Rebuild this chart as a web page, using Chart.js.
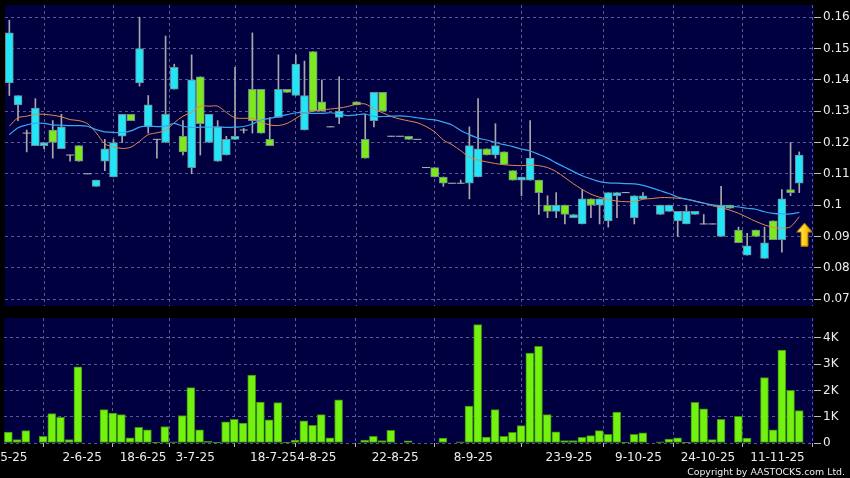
<!DOCTYPE html>
<html>
<head>
<meta charset="utf-8">
<script src="https://cdn.jsdelivr.net/npm/chart.js@4.4.1/dist/chart.umd.min.js"></script>
<style>
  html, body { margin: 0; padding: 0; background: #000; overflow: hidden; }
  #wrap { position: relative; width: 850px; height: 478px; }
  canvas { position: absolute; left: 0; }
  #priceChart { top: 0; }
  #volChart { top: 312px; }
</style>
</head>
<body>
<div id="wrap">
  <canvas id="priceChart" width="850" height="312"></canvas>
  <canvas id="volChart" width="850" height="166"></canvas>
</div>
<script>
// daily prices, one entry per bar (null = no bar)
const opens = [
  0.139, 0.132, 0.123, 0.119, 0.119, 0.124, 0.118, 0.116, 0.119, 0.110,
  0.106, 0.114, 0.109, 0.122, 0.129, 0.139, 0.125, 0.121, 0.120, 0.137,
  0.122, 0.112, 0.141, 0.120, 0.114, 0.116, 0.121, 0.124, 0.137, 0.137,
  0.121, 0.128, 0.137, 0.135, 0.124, 0.149, 0.133, 0.125, 0.128, null,
  0.133, 0.121, 0.127, 0.136, 0.122, 0.122, 0.122, 0.121, 0.112, 0.112,
  0.109, 0.107, 0.107, 0.107, 0.109, 0.118, 0.116, 0.117, 0.111, 0.108,
  0.108, 0.108, 0.100, 0.098, 0.100, 0.096, 0.094, 0.102, 0.100, 0.095,
  0.103, 0.104, 0.096, 0.102, null, 0.097, 0.098, 0.095, 0.094, 0.097,
  0.094, 0.094, 0.090, 0.100, 0.092, 0.084, 0.092, 0.083, 0.095, 0.089,
  0.105, 0.107
];
const highs = [
  0.159, 0.135, 0.124, 0.134, 0.120, 0.127, 0.129, 0.116, 0.119, 0.110,
  0.108, 0.121, 0.121, 0.129, 0.129, 0.160, 0.135, 0.121, 0.154, 0.145,
  0.127, 0.148, 0.141, 0.129, 0.127, 0.122, 0.144, 0.1245, 0.155, 0.137,
  0.128, 0.148, 0.137, 0.148, 0.146, 0.149, 0.140, 0.125, 0.141, null,
  0.133, 0.129, 0.136, 0.136, 0.122, 0.122, 0.122, 0.121, 0.112, 0.112,
  0.109, 0.107, 0.108, 0.125, 0.134, 0.118, 0.126, 0.117, 0.111, 0.109,
  0.127, 0.108, 0.103, 0.104, 0.100, 0.097, 0.105, 0.102, 0.102, 0.104,
  0.104, 0.104, 0.103, 0.104, null, 0.100, 0.100, 0.098, 0.100, 0.098,
  0.097, 0.094, 0.106, 0.100, 0.093, 0.091, 0.092, 0.093, 0.095, 0.105,
  0.120, 0.117
];
const lows = [
  0.135, 0.127, 0.117, 0.119, 0.118, 0.115, 0.118, 0.114, 0.114, 0.110,
  0.106, 0.111, 0.109, 0.120, 0.127, 0.138, 0.123, 0.115, 0.120, 0.137,
  0.116, 0.110, 0.116, 0.120, 0.114, 0.116, 0.121, 0.123, 0.123, 0.123,
  0.119, 0.128, 0.136, 0.135, 0.124, 0.130, 0.130, 0.125, 0.126, null,
  0.132, 0.115, 0.125, 0.130, 0.122, 0.122, 0.121, 0.121, 0.112, 0.109,
  0.106, 0.107, 0.107, 0.102, 0.109, 0.116, 0.115, 0.113, 0.108, 0.103,
  0.108, 0.097, 0.096, 0.096, 0.094, 0.096, 0.094, 0.096, 0.094, 0.093,
  0.096, 0.104, 0.094, 0.102, null, 0.097, 0.098, 0.090, 0.094, 0.097,
  0.094, 0.094, 0.090, 0.099, 0.088, 0.084, 0.090, 0.083, 0.089, 0.085,
  0.103, 0.104
];
const closes = [
  0.155, 0.135, 0.123, 0.131, 0.120, 0.120, 0.125, 0.116, 0.114, 0.110,
  0.108, 0.118, 0.120, 0.129, 0.127, 0.150, 0.132, 0.121, 0.129, 0.144,
  0.117, 0.140, 0.126, 0.129, 0.125, 0.121, 0.122, 0.124, 0.127, 0.123,
  0.119, 0.137, 0.136, 0.145, 0.135, 0.130, 0.130, 0.125, 0.130, null,
  0.132, 0.115, 0.136, 0.130, 0.122, 0.122, 0.121, 0.121, 0.112, 0.109,
  0.107, 0.107, 0.107, 0.119, 0.118, 0.116, 0.119, 0.113, 0.108, 0.109,
  0.115, 0.104, 0.098, 0.100, 0.097, 0.097, 0.102, 0.100, 0.102, 0.104,
  0.104, 0.104, 0.103, 0.103, null, 0.100, 0.100, 0.098, 0.098, 0.098,
  0.094, 0.094, 0.100, 0.099, 0.088, 0.087, 0.090, 0.088, 0.089, 0.102,
  0.104, 0.116
];
const volumes = [
  420, 130, 470, 0, 250, 1120, 980, 130, 2900, 0,
  0, 1270, 1140, 1080, 200, 600, 500, 30, 630, 40,
  1040, 2110, 500, 60, 30, 810, 900, 760, 2590, 1560,
  880, 1540, 30, 110, 840, 670, 1080, 200, 1640, 0,
  0, 110, 250, 90, 480, 0, 80, 0, 0, 0,
  190, 0, 40, 1410, 4510, 230, 1270, 250, 410, 660,
  3420, 3680, 1080, 430, 90, 90, 220, 280, 470, 330,
  1180, 10, 330, 390, 0, 40, 150, 200, 30, 1550,
  1300, 130, 900, 0, 1020, 190, 0, 2490, 500, 3540,
  2010, 1230
];
// moving averages (orange = short, blue = long)
const maShort = [
  0.1252, 0.1279, 0.1284, 0.1290, 0.1290, 0.1287, 0.1282, 0.1273, 0.1270, 0.1260,
  0.1231, 0.1196, 0.1186, 0.1181, 0.1185, 0.1204, 0.1225, 0.1231, 0.1239, 0.1263,
  0.1284, 0.1297, 0.1316, 0.1316, 0.1316, 0.1296, 0.1279, 0.1277, 0.1277, 0.1265,
  0.1256, 0.1254, 0.1261, 0.1277, 0.1293, 0.1300, 0.1304, 0.1307, 0.1310, 0.1315,
  0.1322, 0.1323, 0.1307, 0.1295, 0.1283, 0.1275, 0.1269, 0.1263, 0.1251, 0.1234,
  0.1208, 0.1193, 0.1174, 0.1153, 0.1144, 0.1138, 0.1133, 0.1129, 0.1127, 0.1126,
  0.1128, 0.1126, 0.1120, 0.1107, 0.1088, 0.1068, 0.1050, 0.1035, 0.1025, 0.1018,
  0.1013, 0.1011, 0.1011, 0.1019, 0.1021, 0.1024, 0.1024, 0.1022, 0.1019, 0.1013,
  0.1007, 0.0998, 0.0992, 0.0984, 0.0974, 0.0961, 0.0948, 0.0937, 0.0929, 0.0926,
  0.0931, 0.0963
];
const maLong = [
  0.1225, 0.1247, 0.1256, 0.1262, 0.1261, 0.1256, 0.1255, 0.1254, 0.1254, 0.1252,
  0.1241, 0.1234, 0.1232, 0.1232, 0.1237, 0.1249, 0.1252, 0.1251, 0.1252, 0.1261,
  0.1252, 0.1248, 0.1249, 0.1249, 0.1250, 0.1248, 0.1249, 0.1251, 0.1259, 0.1272,
  0.1277, 0.1283, 0.1289, 0.1295, 0.1295, 0.1293, 0.1293, 0.1295, 0.1291, 0.1286,
  0.1288, 0.1291, 0.1283, 0.1283, 0.1284, 0.1285, 0.1283, 0.1279, 0.1275, 0.1272,
  0.1265, 0.1256, 0.1238, 0.1225, 0.1214, 0.1208, 0.1200, 0.1193, 0.1187, 0.1179,
  0.1173, 0.1162, 0.1150, 0.1135, 0.1121, 0.1107, 0.1094, 0.1084, 0.1075, 0.1071,
  0.1070, 0.1069, 0.1068, 0.1063, 0.1055, 0.1046, 0.1037, 0.1026, 0.1019, 0.1013,
  0.1006, 0.1001, 0.0998, 0.0997, 0.0994, 0.0990, 0.0987, 0.0979, 0.0974, 0.0972,
  0.0972, 0.0977
];
// date labels and the bar index each one sits at
const dateTickIdx = [0, 9, 16, 22, 31, 36, 45, 54, 65, 73, 81, 89];
const dateTickLabels = ['16-5-25', '2-6-25', '18-6-25', '3-7-25', '18-7-25', '4-8-25',
  '22-8-25', '8-9-25', '23-9-25', '9-10-25', '24-10-25', '11-11-25'];
const priceTicks = [0.07, 0.08, 0.09, 0.10, 0.11, 0.12, 0.13, 0.14, 0.15, 0.16];
const priceTickLabels = ['0.07', '0.08', '0.09', '0.1', '0.11', '0.12', '0.13', '0.14', '0.15', '0.16'];
const volTicks = [0, 1000, 2000, 3000, 4000];
const volTickLabels = ['0', '1K', '2K', '3K', '4K'];
// buy signal arrow under the last bar
const signalPoint = { x: 91.6, y: 0.0906 };

const NAVY = '#000040';
const GRID = 'rgba(120,120,175,0.75)';
const CYAN = '#22e6f7';
const GREEN = '#7de81c';
const TEXT = '#ececec';

Chart.defaults.font.family = 'DejaVu Sans';
Chart.defaults.font.size = 12;
Chart.defaults.color = TEXT;

const barIdx = opens.map((_, i) => i);
const bodies = opens.map((o, i) => (o === null || o === closes[i]) ? null : [o, closes[i]]);
const wicks = opens.map((o, i) => o === null ? null : [lows[i], highs[i]]);
const dojis = opens.map((o, i) => (o !== null && o === closes[i]) ? o : null);
const bodyColors = opens.map((o, i) => closes[i] > o ? CYAN : GREEN);

// yellow arrow marker
const arrow = document.createElement('canvas');
arrow.width = 17; arrow.height = 24;
(function () {
  const c = arrow.getContext('2d');
  const g = c.createLinearGradient(0, 0, 17, 0);
  g.addColorStop(0, '#fff59a');
  g.addColorStop(0.5, '#ffd21a');
  g.addColorStop(1, '#e79a00');
  c.beginPath();
  c.moveTo(8.5, 0.5); c.lineTo(16.5, 9.5); c.lineTo(12, 9.5); c.lineTo(12, 23.5);
  c.lineTo(5, 23.5); c.lineTo(5, 9.5); c.lineTo(0.5, 9.5); c.closePath();
  c.fillStyle = g; c.fill();
  c.strokeStyle = '#a86f00'; c.lineWidth = 1; c.stroke();
})();

const panelBg = {
  id: 'panelBg',
  beforeDraw(chart) {
    const { ctx, chartArea: a } = chart;
    ctx.save();
    ctx.fillStyle = '#000';
    ctx.fillRect(0, 0, chart.width, chart.height);
    ctx.fillStyle = NAVY;
    ctx.fillRect(a.left, a.top, a.right - a.left, a.bottom - a.top);
    ctx.restore();
  }
};

const copyright = {
  id: 'copyright',
  afterDraw(chart) {
    const ctx = chart.ctx;
    ctx.save();
    ctx.font = '9.4px "DejaVu Sans"';
    ctx.fillStyle = TEXT;
    ctx.textAlign = 'right';
    ctx.textBaseline = 'alphabetic';
    ctx.fillText('Copyright by AASTOCKS.com Ltd.', 845, 162.5);
    ctx.restore();
  }
};

function xAxis(withLabels) {
  return {
    type: 'linear', min: -0.5, max: 92.7, bounds: 'data', offset: false,
    afterBuildTicks: s => { s.ticks = dateTickIdx.map(i => ({ value: i - 0.5 })); },
    afterFit: s => {
      s.height = withLabels ? 35 : 0;
      s.paddingLeft = 0; s.paddingRight = 0;
    },
    ticks: {
      display: withLabels, autoSkip: false, maxRotation: 0, padding: 4, color: TEXT,
      callback: (v, i) => dateTickLabels[i]
    },
    grid: {
      color: GRID, drawTicks: withLabels, tickLength: 4,
      tickColor: '#bdbdbd', tickBorderDash: []
    },
    border: { display: false, dash: [3, 3] }
  };
}

function yAxis(min, max, ticks, labels) {
  return {
    type: 'linear', position: 'right', min: min, max: max, bounds: 'data',
    afterBuildTicks: s => { s.ticks = ticks.map(v => ({ value: v })); },
    afterFit: s => { s.width = 36; s.paddingTop = 0; s.paddingBottom = 0; },
    ticks: { padding: 2, color: TEXT, callback: (v, i) => labels[i] },
    grid: { color: GRID, tickLength: 7, tickColor: '#bdbdbd', tickBorderDash: [] },
    border: { display: false, dash: [3, 3] }
  };
}

// price panel
new Chart(document.getElementById('priceChart'), {
  type: 'bar',
  data: {
    labels: barIdx,
    datasets: [
      {
        label: 'range',
        data: wicks,
        backgroundColor: '#a8a8a8',
        barThickness: 1,
        grouped: false,
        order: 5
      },
      {
        label: 'body',
        data: bodies,
        backgroundColor: bodyColors,
        borderColor: '#6f8c96',
        borderWidth: 1,
        borderSkipped: false,
        barThickness: 8,
        grouped: false,
        order: 4
      },
      {
        type: 'line',
        label: 'flat',
        data: dojis,
        showLine: false,
        pointStyle: 'line',
        pointRadius: 4,
        pointBorderColor: '#b4b4b4',
        pointBorderWidth: 1,
        order: 3
      },
      {
        type: 'line',
        label: 'MA short',
        data: maShort,
        borderColor: '#e2884c',
        borderWidth: 1,
        pointRadius: 0,
        tension: 0.3,
        order: 2
      },
      {
        type: 'line',
        label: 'MA long',
        data: maLong,
        borderColor: '#3aa6ee',
        borderWidth: 1.2,
        pointRadius: 0,
        tension: 0.3,
        order: 1
      },
      {
        type: 'scatter',
        label: 'signal',
        data: [signalPoint],
        pointStyle: arrow,
        order: 0
      }
    ]
  },
  options: {
    responsive: false,
    animation: false,
    devicePixelRatio: 1,
    layout: { padding: { top: 5, left: 4, right: 0, bottom: 6 } },
    plugins: { legend: { display: false }, tooltip: { enabled: false } },
    scales: {
      x: xAxis(false),
      y: yAxis(0.0678, 0.1639, priceTicks, priceTickLabels)
    }
  },
  plugins: [panelBg]
});

// volume panel
new Chart(document.getElementById('volChart'), {
  type: 'bar',
  data: {
    labels: barIdx,
    datasets: [
      {
        label: 'Volume',
        data: volumes,
        backgroundColor: '#72f20e',
        borderColor: '#3e8a12',
        borderWidth: 1,
        borderSkipped: false,
        barThickness: 8
      }
    ]
  },
  options: {
    responsive: false,
    animation: false,
    devicePixelRatio: 1,
    layout: { padding: { top: 6, left: 4, right: 0, bottom: 0 } },
    plugins: { legend: { display: false }, tooltip: { enabled: false } },
    scales: {
      x: xAxis(true),
      y: yAxis(0, 4760, volTicks, volTickLabels)
    }
  },
  plugins: [panelBg, copyright]
});
</script>
</body>
</html>
